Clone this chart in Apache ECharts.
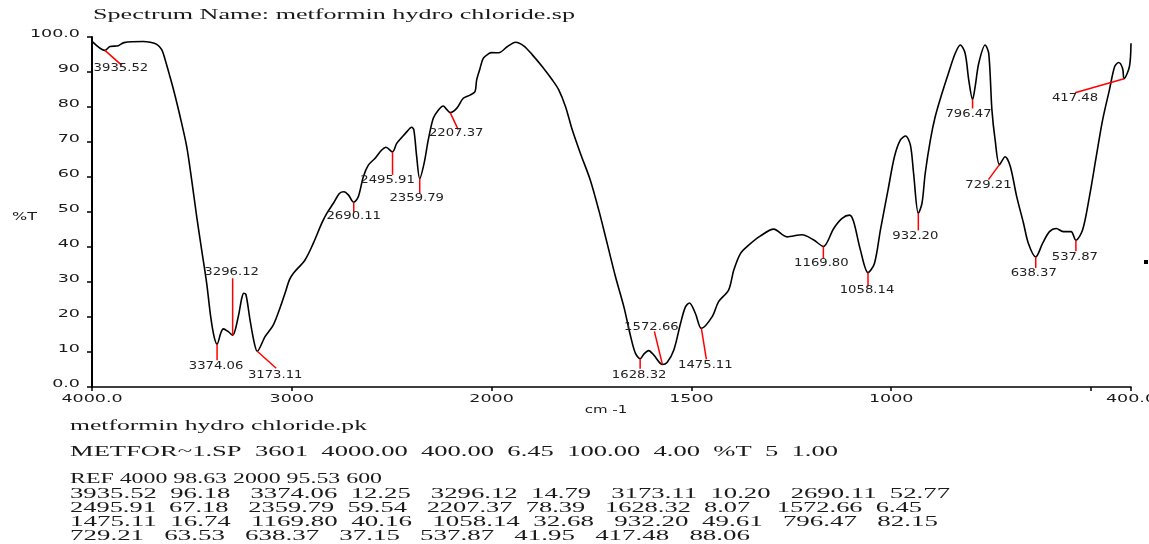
<!DOCTYPE html>
<html><head><meta charset="utf-8">
<script src="https://cdn.jsdelivr.net/npm/echarts@6/dist/echarts.min.js"></script>
<style>html,body{margin:0;padding:0;background:#fff}#c{width:1149px;height:544px}</style>
</head><body><div id="c"></div>
<script>
// ---------- data ----------
const wavenumbers = [3997,3935.52,3910,3868,3840,3743,3710,3676,3651,3635,3610,3590,3560,3526,3501,3476,3451,3426,3406,3389,3374.06,3355,3343,3318,3296.12,3268,3250,3240,3229,3209,3189,3173.11,3134,3093,3051,3034,3012,2992,2934,2892,2850,2825,2792,2762,2739,2717,2690.11,2667,2642,2617,2584,2550,2529,2495.91,2475,2450,2425,2400,2389,2375,2359.79,2338,2317,2292,2267,2242,2225,2207.37,2175,2142,2108,2083,2075,2058,2042,2013,2000,1982,1961,1940,1919,1898,1873,1848,1832,1815,1798,1778,1753,1732,1711,1690,1669,1652,1640,1628.32,1619,1607,1594,1572.66,1561,1544,1527,1515,1505,1490,1475.11,1448,1432,1407,1394,1377,1356,1328,1294,1261,1223,1194,1169.80,1144,1123,1104,1094,1077,1058.14,1042,1027,1008,992,977,964,952,944,932.20,923,915,902,890,873,857,840,827,815,806,796.47,790,781,765,756,748,740,729.21,715,702,686,669,657,638.37,621,604,587,570,550,537.87,521,504,487,471,454,441,431,421,417.48,404,400];
const transmittance = [98.6,96.18,97.3,97.5,98.4,98.7,98.5,97.9,96.4,93.7,88.7,84.5,77.5,68.7,59.1,48.7,39.1,29.6,20.1,14.4,12.25,15.5,16.6,15.8,14.79,20.1,25.5,26.8,26.3,19.1,12.9,10.20,14.4,17.7,23.9,26.8,30.6,32.5,36.3,41.1,46.8,49.6,52.5,55.3,55.8,54.9,52.77,54.4,60.1,63.4,65.3,67.7,68.5,67.18,69.6,71.3,72.9,74.2,73.4,65.8,59.54,63.9,70.6,76.8,79.1,80.3,79.3,78.39,79.6,82.5,83.4,84.4,87.7,91.0,93.9,95.3,95.53,95.5,97.2,98.5,97.4,94.9,91.5,87.7,84.9,80.1,73.4,66.8,59.1,50.6,41.1,31.5,22.9,14.4,9.6,8.07,9.4,10.4,9.1,6.45,7.0,10.6,18.3,22.9,24.0,21.0,16.74,20.1,24.4,27.7,33.4,38.2,40.6,43.1,45.1,42.9,43.5,42.0,40.16,45.3,48.2,49.1,47.2,39.1,32.68,35.3,44.9,56.3,65.8,70.6,71.7,69.1,61.0,49.61,52.5,61.0,70.6,77.2,83.9,89.6,95.3,97.7,95.3,87.7,82.15,85.8,92.5,97.7,95.3,79.1,70.6,63.53,65.8,63.0,54.4,46.8,41.1,37.15,41.1,44.4,45.3,44.4,44.4,41.95,44.9,54.4,65.8,76.3,84.9,91.5,92.7,91.0,88.06,91.5,98.2];

const peakWavenumbers = [3935.52,3374.06,3296.12,3173.11,2690.11,2495.91,2359.79,2207.37,1628.32,1572.66,1475.11,1169.80,1058.14,932.20,796.47,729.21,638.37,537.87,417.48];
const peakTransmittance = [96.18,12.25,14.79,10.20,52.77,67.18,59.54,78.39,8.07,6.45,16.74,40.16,32.68,49.61,82.15,63.53,37.15,41.95,88.06];
const peakLabels = ['3935.52','3374.06','3296.12','3173.11','2690.11','2495.91','2359.79','2207.37','1628.32','1572.66','1475.11','1169.80','1058.14','932.20','796.47','729.21','638.37','537.87','417.48'];

const xTickValues = [4000,3000,2000,1500,1000,500,400];
const xTickLabels = ['4000.0','3000','2000','1500','1000','','400.0'];
const yTickValues = [0,10,20,30,40,50,60,70,80,90,100];
const yTickLabels = ['0.0','10','20','30','40','50','60','70','80','90','100.0'];

const titleText = 'Spectrum Name: metformin hydro chloride.sp';
const yAxisName = '%T';
const xAxisName = 'cm -1';
const infoLines = [
  'metformin hydro chloride.pk',
  'METFOR~1.SP  3601  4000.00  400.00  6.45  100.00  4.00  %T  5  1.00',
  'REF 4000 98.63 2000 95.53 600',
  '3935.52  96.18   3374.06  12.25   3296.12  14.79   3173.11  10.20   2690.11  52.77',
  '2495.91  67.18   2359.79  59.54   2207.37  78.39   1628.32  8.07    1572.66  6.45',
  '1475.11  16.74   1169.80  40.16   1058.14  32.68   932.20  49.61   796.47   82.15',
  '729.21   63.53   638.37   37.15   537.87   41.95   417.48   88.06'
];

// ---------- layout / style (not data) ----------
// offsets in px relative to peak point: [lineDx, lineDy, labelDx, labelDy]
const peakLayout = [[17,15,16,18],[0,16,-1,22],[0,-57,-1,-63],[19,17,18,24],[0,10,0,14],[0,23,-5,28],[0,15,-3,20],[8,17,6,21],[0,10,-1,16],[-8,-33,-11,-37],[5,31,4,37],[0,12,-2,17],[0,14,-1,18],[0,17,-3,23],[0,9,-4,15],[-11,15,-11,20],[0,11,-2,16],[0,11,-1,17],[-49,14,-49,19]];
const infoY = [426, 452, 479, 494, 508, 522, 536];
const infoW = [297, 768, 312, 880, 852, 868, 680];

// axis transform: 4000-2000 compressed (x1), 2000-400 expanded (x2)
function toAxis(w){ return w >= 2000 ? 4000 - w : 2000 + 2 * (2000 - w); }

const ctx = document.createElement('canvas').getContext('2d');
function fitScale(text, font, w){ ctx.font = font; return w / ctx.measureText(text).width; }

const SERIF = '14px "Liberation Serif"';
const TICKFONT = '10px "DejaVu Sans"';
const PEAKFONT = '11px "DejaVu Sans"';
const TXT = '#1a1a1a';

const graphics = [
  {type:'text', x:93, y:15, scaleX: fitScale(titleText, '15px "Liberation Serif"', 482),
   style:{text:titleText, font:'15px "Liberation Serif"', fill:TXT, align:'left', verticalAlign:'middle'}},
  {type:'text', x:12, y:217, scaleX:1.6,
   style:{text:yAxisName, font:TICKFONT, fill:TXT, align:'left', verticalAlign:'middle'}},
  {type:'text', x:606, y:410, scaleX:1.5,
   style:{text:xAxisName, font:TICKFONT, fill:TXT, align:'center', verticalAlign:'middle'}},
  {type:'rect', shape:{x:1144, y:260, width:4, height:4}, style:{fill:'#000'}}
];
infoLines.forEach((t,i)=>{
  graphics.push({type:'text', x:70, y:infoY[i], scaleX: fitScale(t, SERIF, infoW[i]),
    style:{text:t, font:SERIF, fill:TXT, align:'left', verticalAlign:'middle'}});
});

const chart = echarts.init(document.getElementById('c'), null, {renderer:'canvas'});
chart.setOption({
  animation:false,
  backgroundColor:'#fff',
  grid:{left:92, right:18, top:37, bottom:157, containLabel:false, outerBoundsMode:'none'},
  xAxis:{type:'value', min:0, max:5200, interval:1000,
    axisLine:{show:true, onZero:false, lineStyle:{color:'#000', width:1.5}},
    axisTick:{show:true, length:4, lineStyle:{color:'#000', width:1.5}},
    axisLabel:{show:false}, splitLine:{show:false}},
  yAxis:{type:'value', min:0, max:100, interval:10,
    axisLine:{show:true, lineStyle:{color:'#000', width:2}},
    axisTick:{show:true, length:5, lineStyle:{color:'#000', width:1.5}},
    axisLabel:{show:false}, splitLine:{show:false}},
  graphic: graphics,
  series:[
    {type:'line', data: wavenumbers.map((w,i)=>[toAxis(w), transmittance[i]]),
     showSymbol:false, smooth:0.3, clip:false,
     lineStyle:{color:'#000', width:1.6}, z:2},
    {type:'custom', coordinateSystem:'cartesian2d', clip:false, z:3,
     data: peakWavenumbers.map((w,i)=>[toAxis(w), peakTransmittance[i], i]),
     renderItem:function(params, api){
       const i = api.value(2);
       const p = api.coord([api.value(0), api.value(1)]);
       const L = peakLayout[i];
       return {type:'group', children:[
         {type:'line', shape:{x1:p[0], y1:p[1], x2:p[0]+L[0], y2:p[1]+L[1]}, style:{stroke:'#ff0000', lineWidth:1.5}},
         {type:'text', x:p[0]+L[2], y:p[1]+L[3], scaleX:1.2,
          style:{text:peakLabels[i], font:PEAKFONT, fill:'#222', align:'center', verticalAlign:'middle'}}
       ]};
     }},
    {type:'custom', coordinateSystem:'cartesian2d', clip:false, z:3,
     data: yTickValues.map((v,i)=>[0, v, i]),
     renderItem:function(params, api){
       const i = api.value(2);
       const p = api.coord([api.value(0), api.value(1)]);
       return {type:'text', x:p[0]-12, y:p[1]-3, scaleX:1.75,
         style:{text:yTickLabels[i], font:TICKFONT, fill:TXT, align:'right', verticalAlign:'middle'}};
     }},
    {type:'custom', coordinateSystem:'cartesian2d', clip:false, z:3,
     data: xTickValues.map((w,i)=>[toAxis(w), 0, i]),
     renderItem:function(params, api){
       const i = api.value(2);
       const p = api.coord([api.value(0), api.value(1)]);
       return {type:'text', x:p[0], y:p[1]+12, scaleX:1.75,
         style:{text:xTickLabels[i], font:TICKFONT, fill:TXT, align:'center', verticalAlign:'middle'}};
     }}
  ]
});
</script></body></html>
